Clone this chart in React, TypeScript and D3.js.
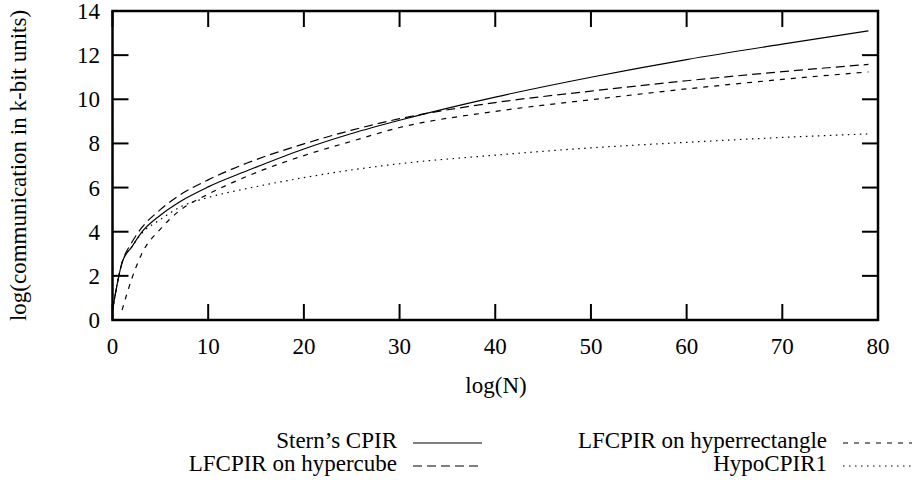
import React from "react";
import * as d3 from "d3";

// log(N) sample points and log(communication)
const logN = [0, 1, 2, 3, 5, 7, 10, 14, 20, 25, 30, 40, 50, 60, 70, 79];
const stern = [0.45, 2.6, 3.3, 3.95, 4.75, 5.35, 6.03, 6.75, 7.75, 8.45, 9.05, 10.1, 11.0, 11.8, 12.5, 13.1];
const hypercube = [0.45, 2.6, 3.5, 4.15, 5.0, 5.65, 6.35, 7.1, 7.98, 8.6, 9.12, 9.85, 10.37, 10.84, 11.25, 11.58];
const hyperrectLogN = [1, 2, 3, 5, 7, 10, 14, 20, 25, 30, 40, 50, 60, 70, 79];
const hyperrect = [0.45, 1.85, 2.95, 4.12, 4.95, 5.7, 6.5, 7.45, 8.1, 8.72, 9.45, 9.98, 10.47, 10.9, 11.24];
const hypo = [0.45, 2.6, 3.3, 3.9, 4.55, 5.1, 5.55, 5.95, 6.45, 6.8, 7.08, 7.47, 7.8, 8.05, 8.27, 8.43];

const xTicks = [0, 10, 20, 30, 40, 50, 60, 70, 80];
const yTicks = [0, 2, 4, 6, 8, 10, 12, 14];

const font = "Liberation Serif, DejaVu Serif, serif";

const App = () => {
  const width = 915;
  const height = 483;
  const left = 112.5, right = 878, top = 11, bottom = 320;
  const tickLen = 16;

  const x = d3.scaleLinear().domain([0, 80]).range([left, right]);
  const y = d3.scaleLinear().domain([0, 14]).range([bottom, top]);

  const line = d3.line<[number, number]>()
    .x(d => x(d[0]))
    .y(d => y(d[1]))
    .curve(d3.curveMonotoneX);

  const series = [
    { name: "Stern\u2019s CPIR", xs: logN, ys: stern, dash: "none", lx: 397, sx: 413, ly: 443 },
    { name: "LFCPIR on hypercube", xs: logN, ys: hypercube, dash: "9,5", lx: 397, sx: 413, ly: 466 },
    { name: "LFCPIR on hyperrectangle", xs: hyperrectLogN, ys: hyperrect, dash: "5,6", lx: 827, sx: 843, ly: 443 },
    { name: "HypoCPIR1", xs: logN, ys: hypo, dash: "1.5,4.5", lx: 827, sx: 843, ly: 466 },
  ];

  return (
    <svg width={width} height={height}
      style={{ position: "absolute", left: 0, top: 0, background: "#fff", fontFamily: font, fontSize: 23 }}>
      {/* ticks on all four sides, pointing inward */}
      {xTicks.map(t => (
        <g key={"x" + t}>
          <line x1={x(t)} x2={x(t)} y1={bottom} y2={bottom - tickLen} stroke="#000" strokeWidth={2} />
          <line x1={x(t)} x2={x(t)} y1={top} y2={top + tickLen} stroke="#000" strokeWidth={2} />
          <text x={x(t)} y={354} textAnchor="middle">{t}</text>
        </g>
      ))}
      {yTicks.map(t => (
        <g key={"y" + t}>
          <line x1={left} x2={left + tickLen} y1={y(t)} y2={y(t)} stroke="#000" strokeWidth={2} />
          <line x1={right} x2={right - tickLen} y1={y(t)} y2={y(t)} stroke="#000" strokeWidth={2} />
          <text x={100} y={y(t) + 8} textAnchor="end">{t}</text>
        </g>
      ))}
      <rect x={left} y={top} width={right - left} height={bottom - top} fill="none" stroke="#000" strokeWidth={2.5} />

      {series.map(s => (
        <path key={s.name}
          d={line(s.xs.map((v, i) => [v, s.ys[i]] as [number, number])) || ""}
          fill="none" stroke="#000" strokeWidth={1.2}
          strokeDasharray={s.dash} />
      ))}

      <text x={496} y={393} textAnchor="middle">log(N)</text>
      <text transform={`translate(26,${(top + bottom) / 2}) rotate(-90)`} textAnchor="middle">
        log(communication in k-bit units)
      </text>

      {series.map(s => (
        <g key={"leg" + s.name}>
          <text x={s.lx} y={s.ly + 5} textAnchor="end">{s.name}</text>
          <line x1={s.sx} x2={s.sx + 69} y1={s.ly} y2={s.ly} stroke="#000" strokeWidth={1.2}
            strokeDasharray={s.dash} />
        </g>
      ))}
    </svg>
  );
};

export default App;
